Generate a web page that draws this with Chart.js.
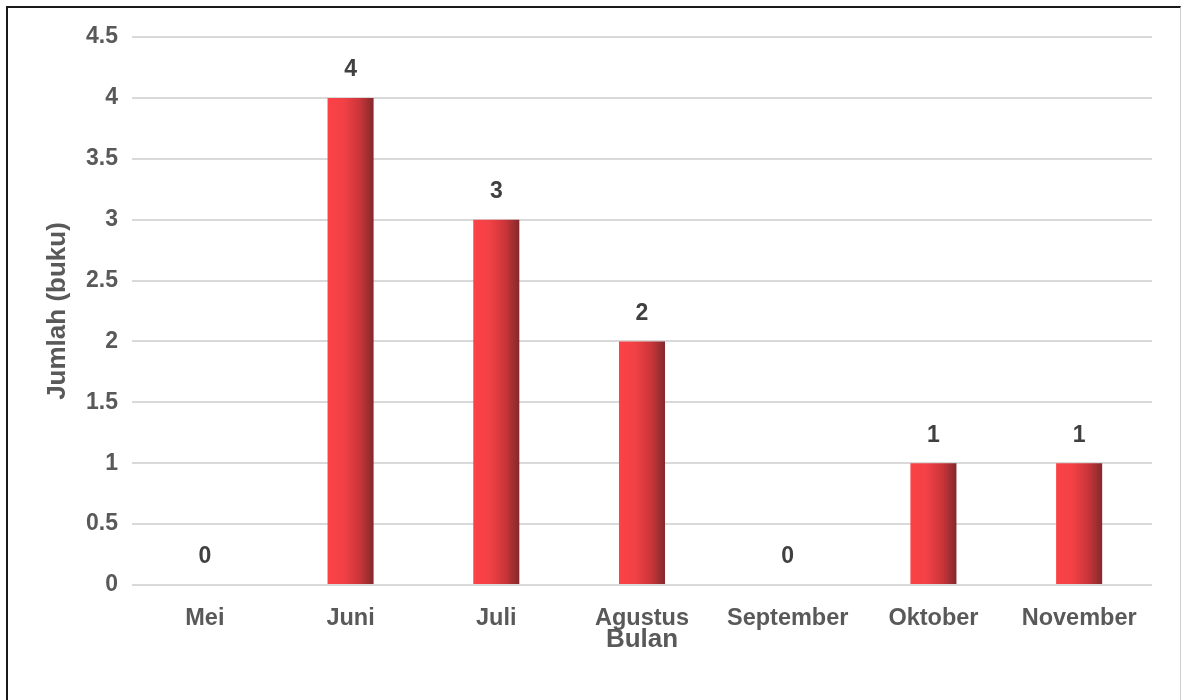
<!DOCTYPE html>
<html lang="id">
<head>
    <meta charset="UTF-8">
    <title>Jumlah buku per bulan</title>
    <script src="https://cdn.jsdelivr.net/npm/chart.js"></script>
    <style>
        html, body { margin: 0; padding: 0; background: #fff; }
        .wrap { position: relative; width: 1181px; height: 700px; overflow: hidden; }
        .frame {
            position: absolute; left: 6px; top: 6px; right: 0; bottom: -10px;
            border-left: 2px solid #1a1a1a; border-top: 2px solid #1a1a1a;
            border-right: 1px solid #cfcfcf;
        }
        canvas { position: absolute; left: 0; top: 0; }
    </style>
</head>
<body>

<div class="wrap">
    <div class="frame"></div>
    <canvas id="bukuChart" width="1181" height="700"></canvas>
</div>

<script>
    // data
    const bulan = ['Mei', 'Juni', 'Juli', 'Agustus', 'September', 'Oktober', 'November'];
    const jumlahBuku = [0, 4, 3, 2, 0, 1, 1];
    const yMin = 0, yMax = 4.5, yStep = 0.5;

    const fontFam = '"Liberation Sans", Arial, sans-serif';
    const barPct = 0.316;

    // gradien merah per batang (kiri terang -> kanan gelap)
    function barGradient(ctx) {
        const chart = ctx.chart;
        const x = chart.scales.x;
        if (!x || !chart.chartArea) return '#f04045';
        const cx = x.getPixelForValue(ctx.dataIndex);
        const w = x.width / bulan.length * barPct;
        const g = chart.ctx.createLinearGradient(cx - w / 2, 0, cx + w / 2, 0);
        g.addColorStop(0, '#fc4246');
        g.addColorStop(0.35, '#f24146');
        g.addColorStop(0.7, '#c93539');
        g.addColorStop(1, '#83292c');
        return g;
    }

    // label angka di atas batang
    const labelAtas = {
        id: 'labelAtas',
        afterDatasetsDraw(chart) {
            const c = chart.ctx;
            const meta = chart.getDatasetMeta(0);
            c.save();
            c.font = 'bold 23px ' + fontFam;
            c.fillStyle = '#404040';
            c.textAlign = 'center';
            c.textBaseline = 'middle';
            meta.data.forEach((bar, i) => {
                c.fillText(String(jumlahBuku[i]), bar.x, bar.y - 28);
            });
            c.restore();
        }
    };

    const chart = new Chart(document.getElementById('bukuChart'), {
        type: 'bar',
        data: {
            labels: bulan,
            datasets: [{
                label: 'Jumlah (buku)',
                data: jumlahBuku,
                backgroundColor: barGradient,
                borderWidth: 0,
                barPercentage: barPct,
                categoryPercentage: 1
            }]
        },
        options: {
            responsive: false,
            animation: false,
            layout: { padding: { left: 42, right: 29, top: 37, bottom: 45 } },
            plugins: {
                legend: { display: false },
                tooltip: { enabled: false }
            },
            scales: {
                x: {
                    grid: { display: false },
                    border: { display: false },
                    ticks: {
                        color: '#595959',
                        padding: 11,
                        maxRotation: 0,
                        font: { family: fontFam, size: 23.5, weight: 'bold' }
                    },
                    title: {
                        display: true,
                        text: 'Bulan',
                        color: '#595959',
                        padding: 0,
                        font: { family: fontFam, size: 26, weight: 'bold' }
                    },
                    afterFit(scale) { scale.height = 70; }
                },
                y: {
                    min: yMin,
                    max: yMax,
                    grid: { color: '#d9d9d9', lineWidth: 2, drawTicks: false },
                    border: { display: false },
                    ticks: {
                        stepSize: yStep,
                        color: '#595959',
                        padding: 14,
                        font: { family: fontFam, size: 23, weight: 'bold' },
                        callback: v => String(v)
                    },
                    title: {
                        display: true,
                        text: 'Jumlah (buku)',
                        color: '#595959',
                        padding: 0,
                        font: { family: fontFam, size: 26, weight: 'bold' }
                    },
                    afterFit(scale) { scale.width = 90; }
                }
            }
        },
        plugins: [labelAtas]
    });
</script>

</body>
</html>
